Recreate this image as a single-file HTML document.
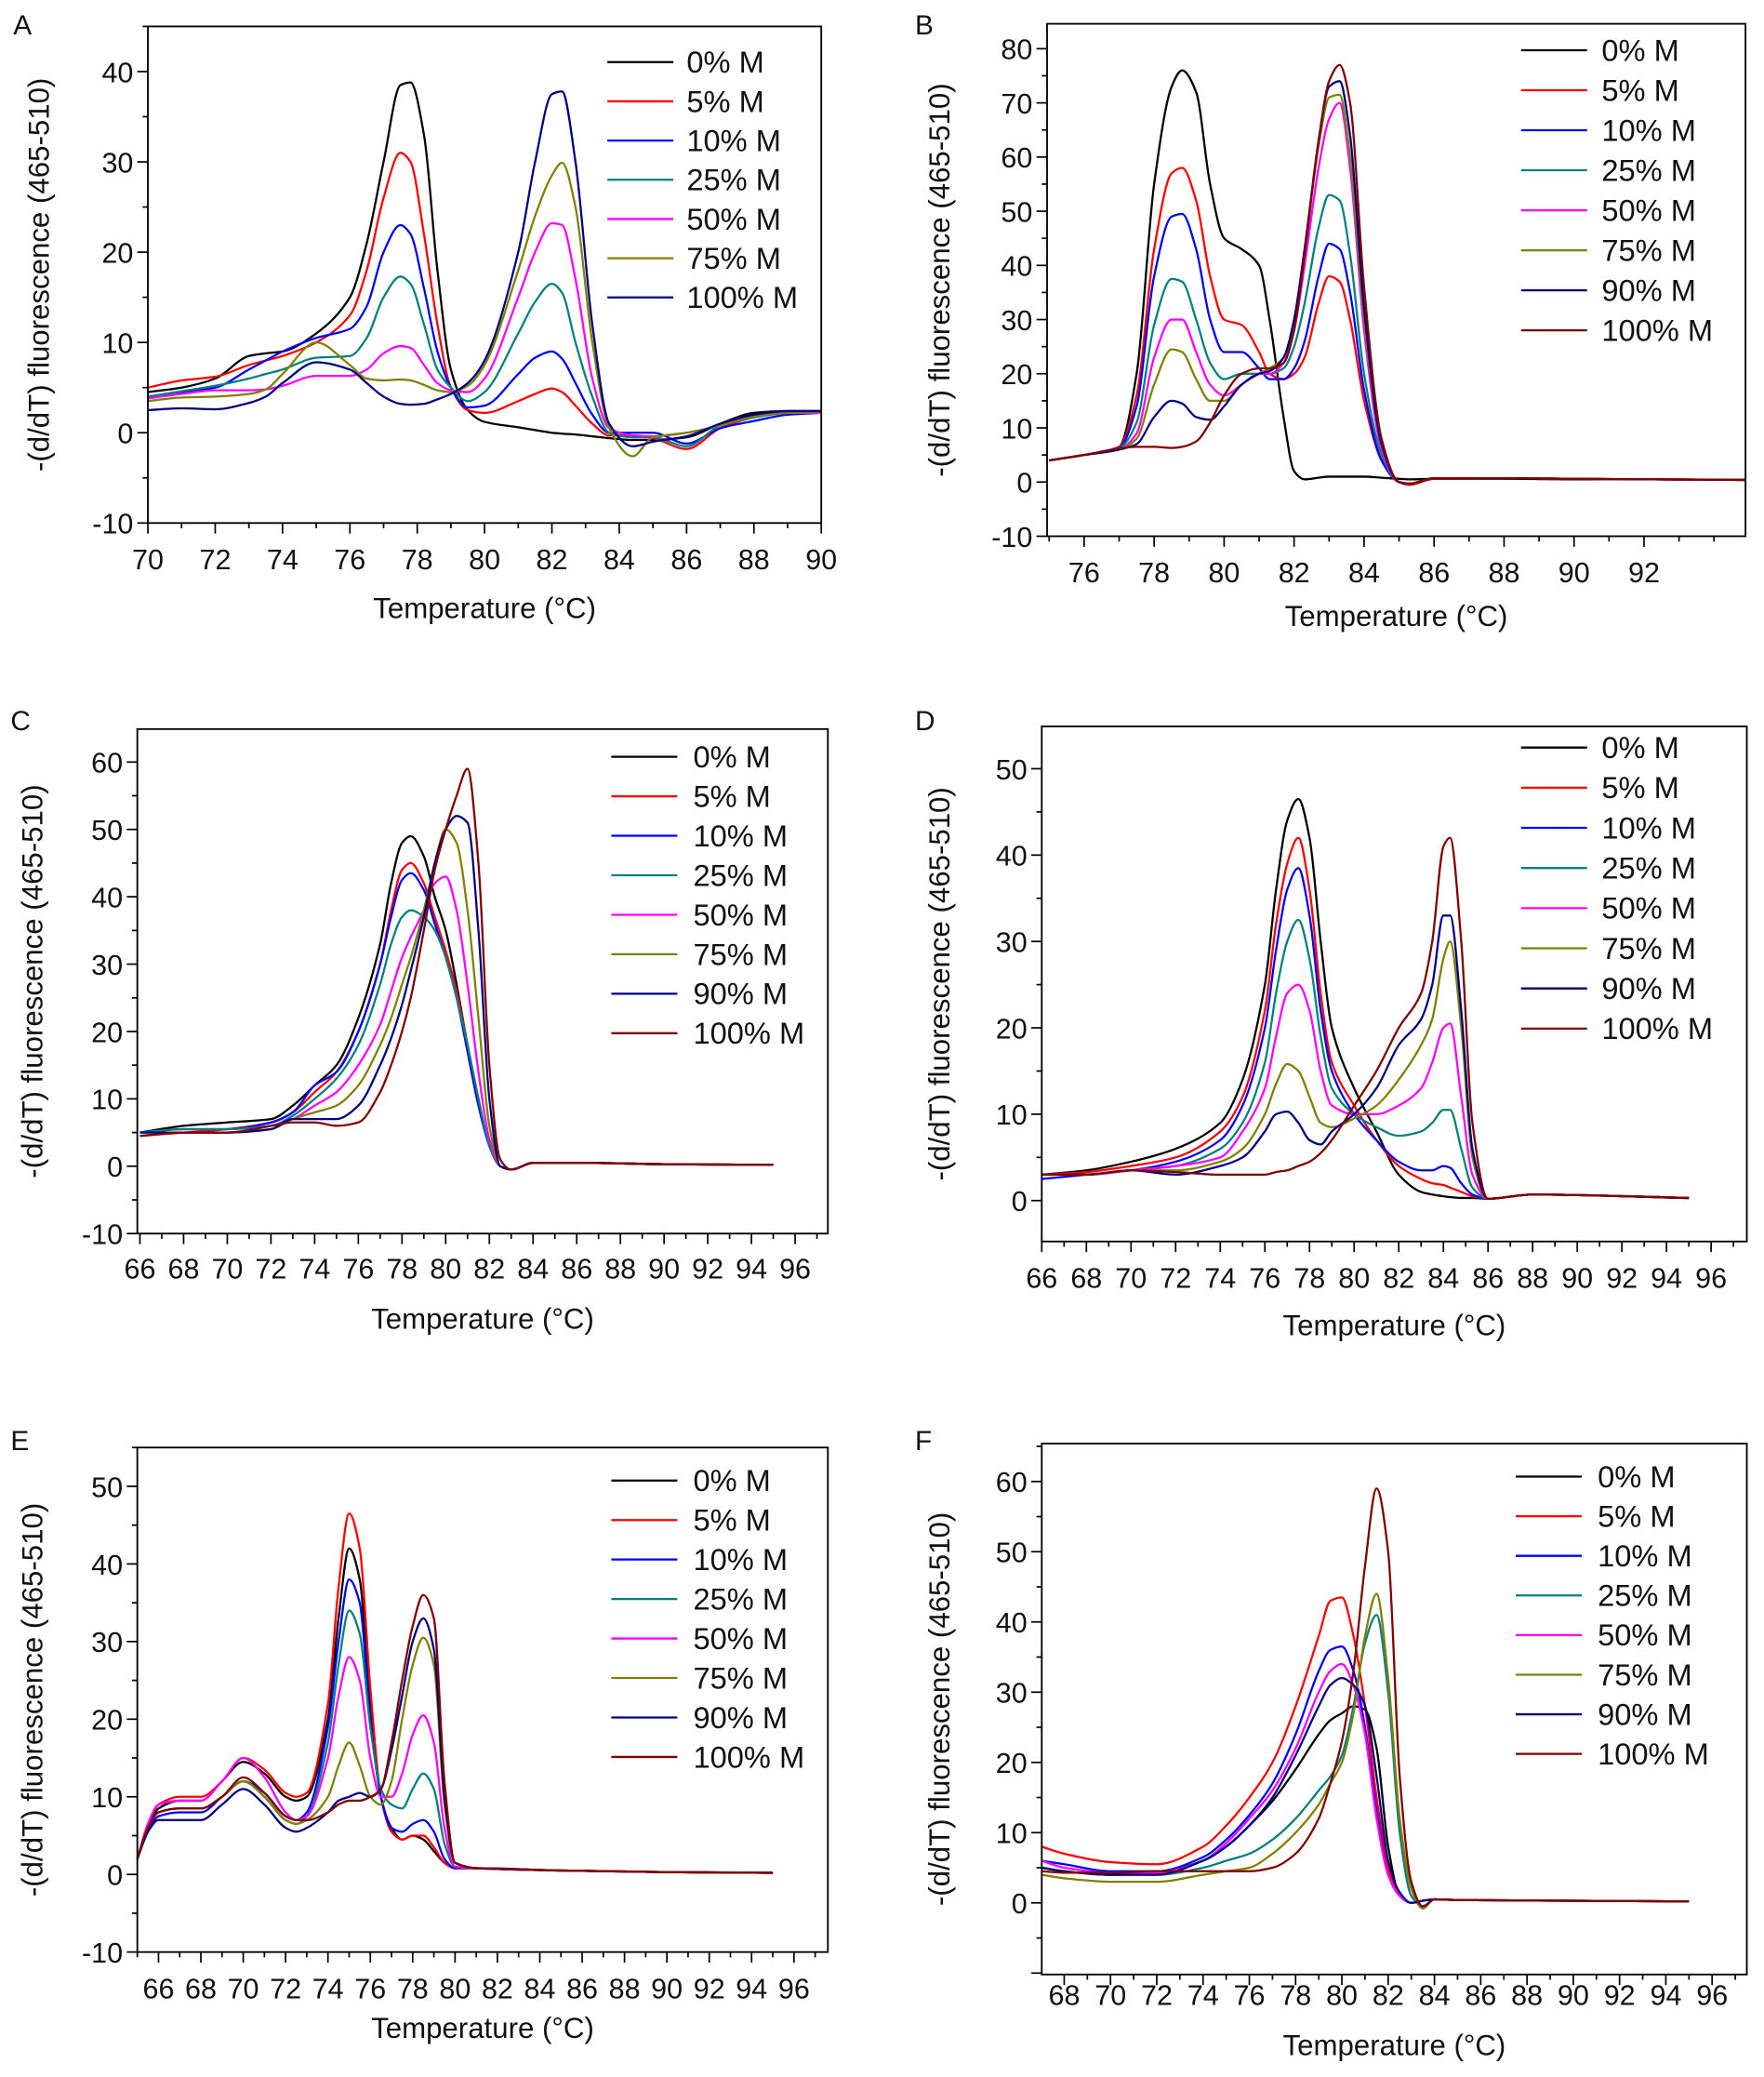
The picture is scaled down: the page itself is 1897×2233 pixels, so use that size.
<!DOCTYPE html>
<html><head><meta charset="utf-8"><style>
html,body{margin:0;padding:0;background:#fff}
svg{display:block}
text{font-family:"Liberation Sans",sans-serif;fill:#111}
</style></head><body>
<svg id="fig" xmlns="http://www.w3.org/2000/svg" width="1897" height="2233" viewBox="0 0 1336 1572.6"></svg>
<script>
// ---- shared data ----
const colors=["#000000","#ff0000","#0000ff","#008080","#ff00ff","#808000","#000080","#800000"];
const labels7=["0% M","5% M","10% M","25% M","50% M","75% M","100% M"];
const labels8=["0% M","5% M","10% M","25% M","50% M","75% M","90% M","100% M"];

// Panel A
const aTemps=[70,71,72,73,73.5,74,75,76,76.5,77,77.5,77.8,78.2,78.6,79,79.5,80,81,81.5,82,82.3,82.7,83.2,83.7,84.4,85,86,87,88,89,90];
const aM0=[4.5,5,6,8.5,8.8,9,11,15,21,30,38.5,38.8,33,18,7,2.5,1.2,0.6,0.3,0,-0.1,-0.2,-0.4,-0.6,-0.8,-0.8,-0.5,1,2.2,2.4,2.4];
const aM5=[5,5.8,6.2,7.5,8,8.5,10,13,18,26,31,30,22,12,5,2.5,2.2,3.5,4.3,4.9,4.5,3,1,-0.3,-0.3,-0.6,-1.8,0.5,1.7,2.2,2.2];
const aM10=[4,4.5,5,7,8,9,10.5,11.5,14,20,23,22,16,9,5,2.8,3,6.5,8.3,9,8.2,5.5,2,0,0,0,-1.2,0.5,1.3,2,2.2];
const aM25=[4,4.6,5.2,6,6.5,7,8.3,8.5,10.5,15,17.3,16.5,12,7,5,3.5,4.5,11,14.5,16.5,15.5,10,4,0,-0.5,-0.5,-1.5,0.8,1.7,2.2,2.3];
const aM50=[3.8,4.3,4.7,4.7,4.8,5.2,6.3,6.3,7,8.8,9.6,9.4,7.5,5.5,4.7,4.5,6,15,20,23.2,23,17,6,0.5,-0.3,-0.4,0,0.8,1.8,2.2,2.2];
const aM75=[3.5,3.9,4,4.3,4.8,6.5,10,7.5,6,5.8,5.9,5.8,5.3,4.7,4.5,5.2,7.5,18,24,28.5,29.9,25,10,0.5,-2.6,-0.5,0,0.8,1.8,2.2,2.3];
const aM100=[2.5,2.7,2.6,3.3,4,5.5,7.8,7,5.5,4,3.2,3.1,3.2,3.7,4.3,5.5,8,20,30,37.5,37.8,30,12,1,-1.5,-1,-0.4,1,2,2.4,2.4];

// Panel B
const bTemps=[75,76,77,77.5,78,78.5,78.8,79.2,79.6,80,80.5,81,81.3,81.7,82,82.3,82.7,83,83.3,83.6,84,84.5,85,85.3,86,88,90,92,95];
const bM0=[4,5,6.5,20,55,73,76,72,55,45,43,40,30,12,2,0.5,0.8,1,1,1,1,0.8,0.6,0.5,0.6,0.6,0.5,0.5,0.4];
const bM5=[4,5,6.5,16,43,57,58,52,38,30,29,24,20,19,20,23,33,38,37,30,15,4,0,-0.5,0.6,0.7,0.6,0.5,0.4];
const bM10=[4,5,6.3,14,38,49,49.5,43,30,24,24,21,19,19,21,26,38,44,43,35,17,4,0,-0.3,0.7,0.7,0.6,0.5,0.4];
const bM25=[4,5,6.2,11,29,37.5,37,30,22,19,20,20,20,21,25,33,47,53,52,42,20,5,0,-0.3,0.7,0.7,0.6,0.5,0.4];
const bM50=[4,5,6,9,23,30,30,24,18,16,18,20,20,22,28,40,58,67,70,58,28,6,0,-0.3,0.7,0.7,0.6,0.5,0.4];
const bM75=[4,5,6,8,18,24.5,24,19,15,15,18,20,21,23,30,43,62,71,71.5,60,30,7,0,-0.3,0.7,0.7,0.6,0.5,0.4];
const bM90=[4,5,6,7,12,15,14.5,12,11.5,14,18,20,20.5,23,30,43,63,73,74,64,32,7,0,-0.3,0.7,0.7,0.6,0.5,0.4];
const bM100=[4,5,6.2,6.5,6.5,6.3,6.5,7.5,11,16,20,21,21,22,28,42,63,74,77,70,36,8,0,-0.3,0.7,0.7,0.6,0.5,0.4];

// Panel C
const cTemps=[66,68,70,72,73,74,75,76,77,77.5,78,78.4,79,79.5,80,80.5,81,81.5,82,82.5,83,84,86,90,95];
const cM0=[5,6,6.5,7,9,12,15,22,33,42,48,49,46,40,35,27,18,10,3,0,-0.5,0.5,0.5,0.3,0.2];
const cM5=[4.5,5,5.5,6.5,8,11,14,20,30,38,44,45,42,37,32,26,18,10,3,0,-0.5,0.5,0.5,0.3,0.2];
const cM10=[5,5.5,5.5,6.5,8,12,14,20,30,37,42.5,43.5,41,36,31,25,17,9,3,0,-0.5,0.5,0.5,0.3,0.2];
const cM25=[5,5.5,5.5,6,7.5,10,13,18,27,33,37,38,37,35,31,25,18,10,3,0,-0.5,0.5,0.5,0.3,0.2];
const cM50=[4.5,5,5,6,7,9,11,15,21,26,31,34,38,42,43,38,27,14,4,0,-0.5,0.5,0.5,0.3,0.2];
const cM75=[4.5,5,5,5.5,7,8,9,12,18,22,27,31,38,45,50,48,38,22,6,0,-0.5,0.5,0.5,0.3,0.2];
const cM90=[5,5,5,5.5,7,7,7,9,15,19,24,29,37,45,50,52,51,35,10,0,-0.5,0.5,0.5,0.3,0.2];
const cM100=[4.5,5,5,6,6.5,6.5,6,6.5,11,15,20,25,35,44,50,55,59,45,15,1,-0.5,0.5,0.5,0.3,0.2];

// Panel D
const dTemps=[66,68,70,72,74,75,76,76.5,77,77.5,78,78.5,79,80,81,82,83,83.5,84,84.3,84.8,85.3,86,88,95];
const dM0=[3,3.5,4.5,6,9,14,25,36,44,46.5,42,30,20,13,8,3,1,0.7,0.5,0.4,0.3,0.3,0.2,0.7,0.3];
const dM5=[3,3.3,4,5,8,12,22,32,39,42,36,24,16,11,7,4,2.5,2,1.8,1.5,1,0.5,0.2,0.7,0.3];
const dM10=[2.5,3,3.5,4.5,7,11,20,29,36,38.5,33,22,15,10,7,4.5,3.5,3.5,4,3.8,2,0.7,0.2,0.7,0.3];
const dM25=[3,3,3.5,4,6,9,16,24,30,32.5,28,19,13,10,8.5,7.5,8,9,10.5,10.5,6,1.5,0.2,0.7,0.3];
const dM50=[3,3,3.5,4,5,8,13,19,24,25,22,15,11,10,10,11,13,16,20,20.5,12,3,0.2,0.7,0.3];
const dM75=[3,3,3.5,3.5,4.5,6,10,13.5,15.8,15,12,9,8.5,9.5,11,14,18,21,28,30,20,5,0.2,0.7,0.3];
const dM90=[3,3,3.5,3,4,5,8,10,10.3,9,7,6.5,8,10,13,18,21,25,33,33,22,6,0.2,0.7,0.3];
const dM100=[3,3,3.5,3.3,3,3,3,3.3,3.5,4,4.5,5.5,7,11,15,20,24,30,41,42,30,9,0.2,0.7,0.3];

// Panel E
const eTemps=[65,65.5,66,67,68,69,70,71,72,72.5,73,74,74.5,75,75.5,76,76.5,77,77.5,78,78.5,79,79.5,80,81,85,90,95];
const eM0=[2,6,8.5,9.5,9.5,12,14.5,13,10,9.5,10,20,33,42,38,22,10,6,4.5,5,4.5,3,1.5,0.8,0.8,0.5,0.3,0.2];
const eM5=[2,6.5,9,10,10,12,15,13.5,10.5,10,10.5,22,37,46.5,42,24,10,5.5,4.5,5,5,3.5,1.5,0.8,0.8,0.5,0.3,0.2];
const eM10=[2,5.5,7.5,8,8,10,12,10.5,7.5,7,8,19,30,38,35,20,10,6,5.5,6.5,7,5.5,2,0.8,0.8,0.5,0.3,0.2];
const eM25=[2,6,8,8.5,8.5,10,12,10,7,6.5,7.5,17,27,34,31,19,11,9,8.5,11,13,11,4,1,0.8,0.5,0.3,0.2];
const eM50=[2,6.5,9,9.5,9.5,12,15,12.5,8,7,7.5,15,23,28,25,15,10,10,13,18,20.5,17,6,1,0.8,0.5,0.3,0.2];
const eM75=[2,6,8,8.5,8.5,10,12,10,7,6.5,7,10,14,17,14,10,9,12,20,27,30.5,27,9,1.5,0.8,0.5,0.3,0.2];
const eM90=[2,5.5,7,7,7,9,11,9,6,5.5,6,8,9.5,10,10.5,10,11,16,23,30,33,29,10,1.5,0.8,0.5,0.3,0.2];
const eM100=[2,6,8,8.5,8.5,10,12.5,10.5,7.5,7,7,8,9,9.5,9.5,10,11,17,25,32,36,33,12,1.5,0.8,0.5,0.3,0.2];

// Panel F
const fTemps=[67,68,70,72,74,75,76,77,78,79,79.5,80,80.5,81,81.5,82,82.5,83,83.5,84,85,90,95];
const fM0=[5,4.5,4,4.3,6,8,11,14.5,19,24,26,27,28,27.5,22,8,1,0,0.3,0.5,0.4,0.3,0.2];
const fM5=[8,7,5.8,5.5,8,11,15,20,28,38,43,43.5,38,28,15,5,1,0,0.3,0.5,0.4,0.3,0.2];
const fM10=[6,5.5,4.5,4.5,6.5,9,12.5,17,24,33,36,36.5,33,25,13,4,1,0,0.3,0.5,0.4,0.3,0.2];
const fM25=[5,4.5,4,4,5,6,7,9,12,16,18,21,28,37,41,30,10,1,-0.5,0.5,0.4,0.3,0.2];
const fM50=[6,5,4.3,4.3,6,8.5,12,16,22,30,33,34,31,24,12,4,1,0,0.3,0.5,0.4,0.3,0.2];
const fM75=[4,3.5,3,3,4,4.5,5,7,10,14,17,20,27,38,44,32,12,2,-0.8,0.5,0.4,0.3,0.2];
const fM90=[5,4.5,4,4,6,8,11,15,21,28,31,32,31,28,18,6,1.5,0,0.3,0.5,0.4,0.3,0.2];
const fM100=[4.5,4.3,4.3,4.5,4.5,4.5,4.5,5,7,12,17,23,33,48,59,50,18,3,-0.5,0.5,0.4,0.3,0.2];

// Tick label arrays
const aXTicks=[70,72,74,76,78,80,82,84,86,88,90], aYTicks=[-10,0,10,20,30,40];
const bXTicks=[76,78,80,82,84,86,88,90,92], bYTicks=[-10,0,10,20,30,40,50,60,70,80];
const cXTicks=[66,68,70,72,74,76,78,80,82,84,86,88,90,92,94,96], cYTicks=[-10,0,10,20,30,40,50,60];
const dXTicks=[66,68,70,72,74,76,78,80,82,84,86,88,90,92,94,96], dYTicks=[0,10,20,30,40,50];
const eXTicks=[66,68,70,72,74,76,78,80,82,84,86,88,90,92,94,96], eYTicks=[-10,0,10,20,30,40,50];
const fXTicks=[68,70,72,74,76,78,80,82,84,86,88,90,92,94,96], fYTicks=[0,10,20,30,40,50,60];

// ---- layout (pixel geometry, not data) ----
const panels=[
 {id:"a",letter:"A",L:112,R:622,T:20,B:396,x0:70,x1:90,y0:-10,y1:45,xs:aTemps,ser:[aM0,aM5,aM10,aM25,aM50,aM75,aM100],lab:labels7,xt:aXTicks,yt:aYTicks,
  lx:[460,510,520],ly:47,ldy:29.7,lf:[10,18],yt_x:35,tickY:423,titleY:460},
 {id:"b",letter:"B",L:793,R:1322,T:18,B:406,x0:74.94,x1:94.9,y0:-10,y1:84.6,xs:bTemps,ser:[bM0,bM5,bM10,bM25,bM50,bM75,bM90,bM100],lab:labels8,xt:bXTicks,yt:bYTicks,
  lx:[1152,1202,1213],ly:38,ldy:30.3,lf:[693,18],yt_x:717,tickY:433,titleY:466},
 {id:"c",letter:"C",L:104,R:627,T:552,B:934,x0:65.88,x1:97.5,y0:-10,y1:64.9,xs:cTemps,ser:[cM0,cM5,cM10,cM25,cM50,cM75,cM90,cM100],lab:labels8,xt:cXTicks,yt:cYTicks,
  lx:[463,513,525],ly:573,ldy:29.9,lf:[8,545],yt_x:30,tickY:960,titleY:998},
 {id:"d",letter:"D",L:789,R:1323,T:550,B:940,x0:66,x1:97.6,y0:-4.74,y1:54.9,xs:dTemps,ser:[dM0,dM5,dM10,dM25,dM50,dM75,dM90,dM100],lab:labels8,xt:dXTicks,yt:dYTicks,
  lx:[1152,1202,1213],ly:566,ldy:30.4,lf:[693,545],yt_x:717,tickY:967,titleY:1003},
 {id:"e",letter:"E",L:104,R:627,T:1096,B:1478,x0:65,x1:97.6,y0:-10,y1:55,xs:eTemps,ser:[eM0,eM5,eM10,eM25,eM50,eM75,eM90,eM100],lab:labels8,xt:eXTicks,yt:eYTicks,
  lx:[463,513,525],ly:1121,ldy:29.9,lf:[8,1090],yt_x:30,tickY:1505,titleY:1535},
 {id:"f",letter:"F",L:789,R:1323,T:1093,B:1495,x0:67.03,x1:97.5,y0:-10.2,y1:65.4,xs:fTemps,ser:[fM0,fM5,fM10,fM25,fM50,fM75,fM90,fM100],lab:labels8,xt:fXTicks,yt:fYTicks,
  lx:[1148,1198,1210],ly:1118,ldy:30,lf:[693,1090],yt_x:717,tickY:1510,titleY:1548}
];
const NS="http://www.w3.org/2000/svg";
const svg=document.getElementById("fig");
function mk(tag,attrs,parent){const e=document.createElementNS(NS,tag);for(const k in attrs)e.setAttribute(k,attrs[k]);(parent||svg).appendChild(e);return e;}
function monotonePath(P){
 const n=P.length;if(n<2)return"";
 const d=[],m=[];
 for(let i=0;i<n-1;i++)d.push((P[i+1][1]-P[i][1])/(P[i+1][0]-P[i][0]));
 m[0]=d[0];m[n-1]=d[n-2];
 for(let i=1;i<n-1;i++){ if(d[i-1]*d[i]<=0)m[i]=0; else m[i]=2/(1/d[i-1]+1/d[i]); }
 let s="M"+P[0][0].toFixed(2)+","+P[0][1].toFixed(2);
 for(let i=0;i<n-1;i++){const h=(P[i+1][0]-P[i][0])/3;
  s+="C"+(P[i][0]+h).toFixed(2)+","+(P[i][1]+m[i]*h).toFixed(2)+" "+(P[i+1][0]-h).toFixed(2)+","+(P[i+1][1]-m[i+1]*h).toFixed(2)+" "+P[i+1][0].toFixed(2)+","+P[i+1][1].toFixed(2);}
 return s;
}
panels.forEach(p=>{
 const g=mk("g",{});
 
 
 const sx=v=>p.L+(v-p.x0)/(p.x1-p.x0)*(p.R-p.L);
 const sy=v=>p.B-(v-p.y0)/(p.y1-p.y0)*(p.B-p.T);
 const lt=mk("text",{x:p.lf[0],y:p.lf[1]+8,"font-size":21},g);lt.textContent=p.letter;
 
 const sg=mk("g",{},g);
 p.ser.forEach((vals,si)=>{
  const ci=(p.ser.length===7&&si===6)?6:si;
  const pts=p.xs.map((t,i)=>[sx(Math.min(Math.max(t,p.x0),p.x1)),sy(vals[i])]);
  const path=mk("path",{d:monotonePath(pts),fill:"none",stroke:colors[ci],"stroke-width":1.6,"stroke-linejoin":"round"},sg);
  
  
 });
 const fr=mk("rect",{x:p.L,y:p.T,width:p.R-p.L,height:p.B-p.T,fill:"none",stroke:"#000","stroke-width":1.3},g);
 
 const xa=mk("g",{},g);
 
 for(let v=Math.ceil(p.x0);v<=p.x1;v++){const X=sx(v);const major=p.xt.includes(v);
  mk("line",{x1:X,x2:X,y1:p.B,y2:p.B+(major?8:4),stroke:"#000","stroke-width":1.2},xa);}
 p.xt.forEach(v=>{const t=mk("text",{x:sx(v),y:p.tickY+8,"font-size":21.5,"text-anchor":"middle"},xa);t.textContent=v;});
 const xt=mk("text",{x:(p.L+p.R)/2,y:p.titleY+8,"font-size":22,"text-anchor":"middle"},g);xt.textContent="Temperature (°C)";
 
 const ya=mk("g",{},g);
 
 for(let v=Math.ceil(p.y0/5)*5;v<=p.y1;v+=5){const Y=sy(v);const major=v%10===0;
  mk("line",{x1:p.L,x2:p.L-(major?8:4),y1:Y,y2:Y,stroke:"#000","stroke-width":1.2},ya);}
 p.yt.forEach(v=>{const t=mk("text",{x:p.L-11,y:sy(v)+8,"font-size":21.5,"text-anchor":"end"},ya);t.textContent=v;});
 const cy=(p.T+p.B)/2;
 const yt=mk("text",{x:p.yt_x+2,y:cy,"font-size":22,"text-anchor":"middle",transform:"rotate(-90 "+(p.yt_x+2)+" "+cy+")"},g);
 yt.textContent="-(d/dT) fluorescence (465-510)";
 
 const lg=mk("g",{},g);
 
 p.lab.forEach((l,i)=>{const ci=(p.lab.length===7&&i===6)?6:i;const Y=p.ly+i*p.ldy;
  const e=mk("g",{},lg);
  
  
  mk("line",{x1:p.lx[0],x2:p.lx[1],y1:Y,y2:Y,stroke:colors[ci],"stroke-width":1.6},e);
  const t=mk("text",{x:p.lx[2],y:Y+8,"font-size":23},e);t.textContent=l;});
});
</script>
</body></html>
